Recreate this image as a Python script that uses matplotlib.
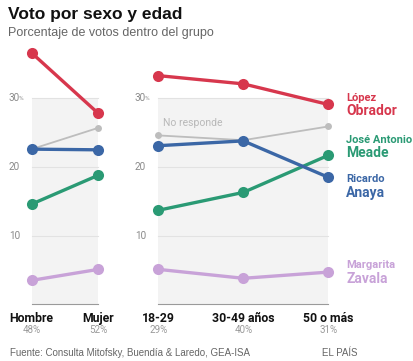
import numpy as np
import matplotlib
matplotlib.use("Agg")
import matplotlib.pyplot as plt

# --- data ---
sexo = ["Hombre", "Mujer"]
sexo_pct = ["48%", "52%"]
edad = ["18-29", "30-49 años", "50 o más"]
edad_pct = ["29%", "40%", "31%"]

lopez_sexo = [36.6, 27.8]
nores_sexo = [22.6, 25.7]
anaya_sexo = [22.6, 22.5]
meade_sexo = [14.6, 18.8]
zavala_sexo = [3.5, 5.1]

lopez_edad = [33.3, 32.1, 29.1]
nores_edad = [24.6, 23.9, 25.9]
anaya_edad = [23.1, 23.8, 18.5]
meade_edad = [13.7, 16.3, 21.7]
zavala_edad = [5.1, 3.8, 4.7]

RED = "#d7374d"
GRAY = "#bdbdbd"
BLUE = "#3b67a6"
GREEN = "#2a9a74"
PURPLE = "#c8a2d8"

NARROW = ["Roboto", "DejaVu Sans"]
plt.rcParams["font.family"] = ["Liberation Sans", "DejaVu Sans"]

W, H = 414, 361
fig = plt.figure(figsize=(W / 100, H / 100), dpi=100)

ylo, yhi = -1, 38
px_per = 6.87
y0px = 304.4


def make_axes(x_first, x_step, n):
    left = x_first - 0.3 * x_step
    width = (n - 1 + 0.6) * x_step
    top = y0px - yhi * px_per
    bot = y0px - ylo * px_per
    ax = fig.add_axes([left / W, 1 - bot / H, width / W, (bot - top) / H])
    ax.set_xlim(-0.3, n - 1 + 0.3)
    ax.set_ylim(ylo, yhi)
    ax.axis("off")
    xs = np.arange(n)
    ax.fill_between([0, n - 1], 0, 30, color="#f3f3f3", zorder=0, lw=0)
    for g in [10, 20, 30]:
        ax.plot([0, n - 1], [g, g], color="#e2e2e2", lw=0.8, zorder=1)
    ax.plot([0, n - 1], [0, 0], color="#9a9a9a", lw=0.8, zorder=1)
    return ax, xs


def series(ax, xs, vals, color, lw=2.4, ms=8, z=3):
    ax.plot(xs, vals, color=color, lw=lw, marker="o", ms=ms, mew=0, zorder=z,
            clip_on=False, solid_capstyle="round")


axL, xl = make_axes(31.7, 66.6, 2)
axR, xr = make_axes(158.3, 85.0, 3)

for ax, xs, data in [(axL, xl, [nores_sexo, zavala_sexo, meade_sexo, anaya_sexo, lopez_sexo]),
                     (axR, xr, [nores_edad, zavala_edad, meade_edad, anaya_edad, lopez_edad])]:
    series(ax, xs, data[0], GRAY, lw=1.3, ms=5, z=2)
    series(ax, xs, data[1], PURPLE)
    series(ax, xs, data[2], GREEN)
    series(ax, xs, data[3], BLUE)
    series(ax, xs, data[4], RED)

# y labels
for xpx in (9, 135):
    for g in (30, 20, 10):
        y = y0px - g * px_per
        fig.text(xpx / W, 1 - y / H, str(g), color="#8a8a8a", fontsize=7.2,
                 va="center", ha="left", family=NARROW)
    fig.text((xpx + 10) / W, 1 - (y0px - 30 * px_per) / H, "%", color="#8a8a8a",
             fontsize=4.5, va="center", ha="left", family=NARROW)

# category labels
for ax, xs, cats, pcts in [(axL, xl, sexo, sexo_pct), (axR, xr, edad, edad_pct)]:
    for x, c, p in zip(xs, cats, pcts):
        ax.annotate(c, (x, 0), xytext=(0, -14), textcoords="offset pixels",
                    ha="center", va="center", fontsize=8.8, fontweight="bold",
                    family=NARROW, color="#111111")
        ax.annotate(p, (x, 0), xytext=(0, -26), textcoords="offset pixels",
                    ha="center", va="center", fontsize=7, color="#999999",
                    family=NARROW)

axR.text(0.06, 26.4, "No responde", color="#b8b8b8", fontsize=7.5,
         family=NARROW, va="center")

# candidate labels
lab = [("López", "Obrador", RED, 30.0, 28.15),
       ("José Antonio", "Meade", GREEN, 23.9, 22.0),
       ("Ricardo", "Anaya", BLUE, 18.25, 16.2),
       ("Margarita", "Zavala", PURPLE, 5.7, 3.7)]
for small, big, col, y1, y2 in lab:
    axR.annotate(small, (2, y1), xytext=(18, 0), textcoords="offset pixels",
                 fontsize=8, fontweight="bold", color=col, va="center",
                 family=NARROW, annotation_clip=False)
    axR.annotate(big, (2, y2), xytext=(18, 0), textcoords="offset pixels",
                 fontsize=10, fontweight="bold", color=col, va="center",
                 family=NARROW, annotation_clip=False)

fig.text(8 / W, 1 - 15 / H, "Voto por sexo y edad", fontsize=12.5,
         fontweight="bold", va="center", color="#111111")
fig.text(8 / W, 1 - 33 / H, "Porcentaje de votos dentro del grupo", fontsize=9,
         va="center", color="#666666")
fig.text(10 / W, 1 - 353 / H, "Fuente: Consulta Mitofsky, Buendía & Laredo, GEA-ISA",
         fontsize=7, va="center", color="#666666")
fig.text(322 / W, 1 - 353 / H, "EL PAÍS", fontsize=7, va="center", color="#666666")

fig.savefig("out.png", dpi=100)
